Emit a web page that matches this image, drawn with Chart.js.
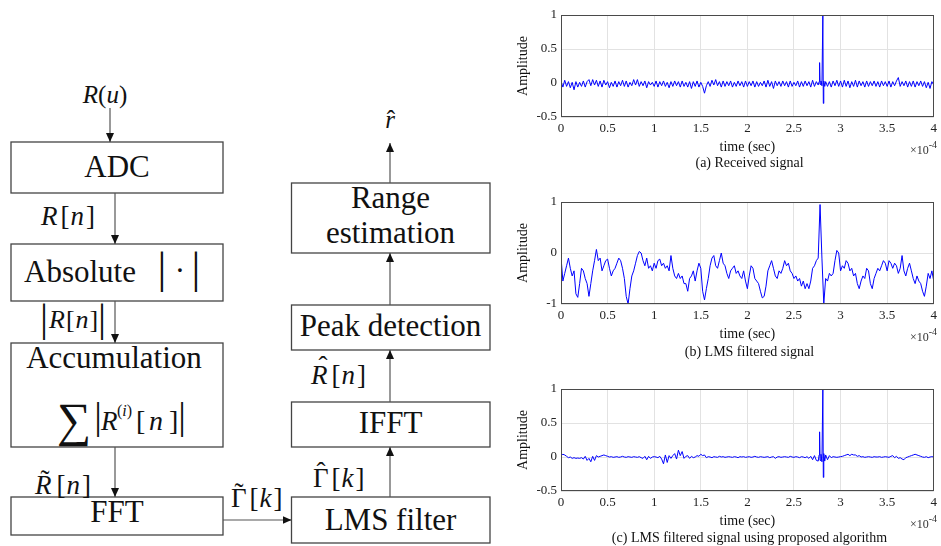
<!DOCTYPE html>
<html>
<head>
<meta charset="utf-8">
<title>LMS range estimation</title>
<script src="https://cdn.jsdelivr.net/npm/chart.js@4.4.1/dist/chart.umd.min.js"></script>
<style>
  html, body { margin: 0; padding: 0; background: #fff; }
  #stage { position: relative; width: 941px; height: 546px; overflow: hidden;
           font-family: "Liberation Serif", serif; color: #111; }
  #diagram { position: absolute; left: 0; top: 0; }
  #diagram text { font-family: "Liberation Serif", serif; }
  .plot { position: absolute; left: 510px; width: 431px; height: 156px; }
  .caption { position: absolute; left: 561px; width: 377px; text-align: center;
             font-size: 14px; line-height: 16px; white-space: nowrap; }
  .scale-note { position: absolute; right: 4px; font-size: 12px; line-height: 14px; color: #333; }
  .scale-note sup { font-size: 10px; vertical-align: 6px; line-height: 0; }
</style>
</head>
<body>
<div id="stage">

<svg id="diagram" width="510" height="546" xmlns="http://www.w3.org/2000/svg" fill="#111">
  <defs>
    <marker id="head" markerWidth="9" markerHeight="8" refX="9" refY="4" orient="auto" markerUnits="userSpaceOnUse">
      <path d="M0,0 L9,4 L0,8 Z" fill="#111"/>
    </marker>
  </defs>

  <!-- blocks -->
  <g fill="#fff" stroke="#444" stroke-width="1.3">
    <rect x="11" y="142" width="212" height="51"/>
    <rect x="11" y="244" width="212" height="57"/>
    <rect x="11" y="343" width="212" height="104"/>
    <rect x="11" y="497" width="212" height="38"/>
    <rect x="291.5" y="497" width="198.5" height="46"/>
    <rect x="291.5" y="402" width="198.5" height="45"/>
    <rect x="291.5" y="305" width="198.5" height="45"/>
    <rect x="291.5" y="183" width="198.5" height="70"/>
  </g>

  <!-- arrows -->
  <g stroke="#555" stroke-width="1.2" marker-end="url(#head)">
    <line x1="110" y1="108" x2="110" y2="142"/>
    <line x1="115" y1="193" x2="115" y2="244"/>
    <line x1="115" y1="301" x2="115" y2="343"/>
    <line x1="115" y1="447" x2="115" y2="497"/>
    <line x1="223" y1="520" x2="291.5" y2="520"/>
    <line x1="390" y1="497" x2="390" y2="447"/>
    <line x1="390" y1="402" x2="390" y2="350"/>
    <line x1="390" y1="305" x2="390" y2="253"/>
    <line x1="390" y1="183" x2="390" y2="143"/>
  </g>

  <!-- block titles -->
  <g font-size="31" text-anchor="middle">
    <text x="117" y="177">ADC</text>
    <text x="114" y="368">Accumulation</text>
    <text x="117" y="522">FFT</text>
    <text x="390.5" y="530">LMS filter</text>
    <text x="390.5" y="433">IFFT</text>
    <text x="390.5" y="336">Peak detection</text>
    <text x="390.5" y="208">Range</text>
    <text x="390.5" y="243">estimation</text>
  </g>
  <text x="24" y="282" font-size="31">Absolute</text>
  <text y="283" font-size="44" text-anchor="middle"><tspan x="162">|</tspan><tspan x="196">|</tspan></text>
  <text x="180" y="281" font-size="31" text-anchor="middle">·</text>

  <!-- sum inside accumulation -->
  <text x="74" y="436" font-size="48" text-anchor="middle">∑</text>
  <text y="429" font-size="38" text-anchor="middle"><tspan x="98">|</tspan><tspan x="182">|</tspan></text>
  <text x="101" y="430" font-size="27" font-style="italic">R</text>
  <text x="117" y="416" font-size="16">(<tspan font-style="italic">i</tspan>)</text>
  <text y="430" font-size="28"><tspan x="136">[</tspan><tspan x="149" font-style="italic">n</tspan><tspan x="169">]</tspan></text>

  <!-- signal labels -->
  <text x="105" y="103" font-size="25" text-anchor="middle"><tspan font-style="italic">R</tspan>(<tspan font-style="italic">u</tspan>)</text>
  <text x="41" y="225" font-size="27"><tspan font-style="italic">R</tspan><tspan dx="3">[</tspan><tspan font-style="italic" dx="1">n</tspan><tspan dx="2">]</tspan></text>
  <text y="331" font-size="40" text-anchor="middle"><tspan x="44">|</tspan><tspan x="102">|</tspan></text>
  <text x="49" y="328" font-size="26"><tspan font-style="italic">R</tspan><tspan dx="1">[</tspan><tspan font-style="italic" dx="1">n</tspan><tspan dx="1">]</tspan></text>
  <text x="35" y="494" font-size="27"><tspan font-style="italic">R</tspan><tspan dx="5">[</tspan><tspan font-style="italic" dx="1">n</tspan><tspan dx="2">]</tspan></text>
  <text x="45" y="489" font-size="27" text-anchor="middle">˜</text>
  <text x="231" y="507" font-size="27">Γ<tspan dx="3">[</tspan><tspan font-style="italic" dx="1">k</tspan><tspan dx="2">]</tspan></text>
  <text x="239" y="502" font-size="27" text-anchor="middle">˜</text>
  <text x="313" y="487" font-size="27">Γ<tspan dx="3">[</tspan><tspan font-style="italic" dx="1">k</tspan><tspan dx="2">]</tspan></text>
  <text x="321" y="481" font-size="27" text-anchor="middle">ˆ</text>
  <text x="311" y="384" font-size="27"><tspan font-style="italic">R</tspan><tspan dx="4">[</tspan><tspan font-style="italic" dx="1">n</tspan><tspan dx="2">]</tspan></text>
  <text x="323" y="375" font-size="27" text-anchor="middle">ˆ</text>
  <text x="390" y="128" font-size="25" text-anchor="middle" font-style="italic">r</text>
  <text x="391" y="128" font-size="25" text-anchor="middle">ˆ</text>
</svg>

<div class="plot" style="top:0px"><canvas id="receivedChart" width="431" height="156"></canvas></div>
<div class="scale-note" style="top:143px">×10<sup>-4</sup></div>
<div class="caption" style="top:155px">(a) Received signal</div>

<div class="plot" style="top:187px"><canvas id="lmsChart" width="431" height="156"></canvas></div>
<div class="scale-note" style="top:330px">×10<sup>-4</sup></div>
<div class="caption" style="top:344px">(b) LMS filtered signal</div>

<div class="plot" style="top:374px"><canvas id="proposedChart" width="431" height="156"></canvas></div>
<div class="scale-note" style="top:517px">×10<sup>-4</sup></div>
<div class="caption" style="top:530px">(c) LMS filtered signal using proposed algorithm</div>

</div>

<script>
// samples every 0.02 (x 1e-4 sec)
const sampleStep = 0.02;

// (a) received signal; the echo near 2.8 is in receivedEcho
const receivedSignal = [
  0.03,-0.06,0.04,-0.05,0.02,-0.07,0.01,-0.1,0.02,-0.06,
  0.01,-0.05,0.03,-0.06,0.02,0.05,-0.04,0.05,-0.03,0.04,
  -0.05,0.03,-0.06,0.04,-0.03,0.02,-0.07,0.01,-0.05,0.03,
  -0.06,0.02,-0.04,0.04,-0.05,0.03,-0.06,0.01,-0.04,0.05,
  -0.03,0.05,-0.05,0.02,-0.04,0.03,-0.07,0.02,-0.03,0.01,
  -0.05,0.03,-0.06,0.02,-0.04,0.03,-0.05,0.01,-0.07,0.02,
  -0.05,0.03,-0.04,0.02,-0.06,0.03,-0.05,0.01,-0.06,0.02,
  -0.08,0.02,-0.05,0.03,-0.06,0.01,-0.05,-0.15,-0.04,0.02,
  -0.05,0.04,-0.03,0.05,-0.04,0.02,-0.06,0.03,-0.05,0.02,
  -0.04,0.03,-0.06,0.01,-0.05,0.03,-0.04,0.02,-0.06,0.03,
  -0.05,0.02,-0.04,0.03,-0.06,0.02,-0.05,0.01,-0.04,0.03,
  -0.06,0.04,-0.05,0.02,-0.08,0.03,-0.04,0.02,-0.05,0.03,
  -0.04,0.02,-0.06,0.03,-0.05,0.01,-0.04,0.03,-0.06,0.02,
  -0.05,0.03,-0.04,0.02,-0.06,0.04,-0.05,0.02,-0.03,null,
  null,null,0.02,-0.05,0.02,-0.06,0.03,-0.04,0.04,-0.05,
  0.03,-0.06,0.04,-0.05,0.03,-0.07,0.02,-0.05,0.04,-0.06,
  0.03,-0.04,0.02,-0.06,0.03,-0.05,0.02,-0.04,0.03,-0.05,
  0.02,-0.06,0.03,-0.04,0.02,-0.05,0.03,-0.06,0.02,-0.04,
  0.03,0.08,-0.05,0.02,-0.04,0.03,-0.06,0.02,-0.05,0.03,
  -0.06,0.02,-0.04,0.03,-0.05,0.02,-0.07,0.01,-0.08,0.02,
  -0.03
];

// (b) plain LMS output
const lmsSignal = [
  -0.08,-0.55,-0.4,-0.25,-0.1,-0.3,-0.45,-0.35,-0.8,-0.87,
  -0.6,-0.3,-0.35,-0.5,-0.6,-0.85,-0.6,-0.35,-0.15,0.07,
  -0.15,-0.1,-0.35,-0.25,-0.15,-0.12,-0.3,-0.45,-0.35,-0.3,
  -0.2,-0.1,-0.15,-0.3,-0.5,-0.85,-1.0,-0.7,-0.45,-0.35,
  -0.2,-0.05,0.03,0.0,-0.15,-0.25,-0.1,-0.3,-0.25,-0.35,
  -0.2,-0.3,-0.15,-0.12,-0.25,-0.2,-0.3,-0.25,-0.35,-0.05,
  -0.3,-0.45,-0.5,-0.4,-0.5,-0.45,-0.6,-0.6,-0.75,-0.5,
  -0.45,-0.35,-0.55,-0.35,-0.2,-0.3,-0.75,-0.92,-0.7,-0.5,
  -0.25,-0.1,-0.05,-0.25,-0.3,-0.15,0.0,-0.2,-0.25,-0.4,
  -0.5,-0.35,-0.3,-0.25,-0.4,-0.35,-0.45,-0.5,-0.35,-0.55,
  -0.7,-0.45,-0.25,-0.3,-0.5,-0.55,-0.6,-0.75,-0.88,-0.85,
  -0.65,-0.35,-0.25,-0.15,-0.3,-0.45,-0.5,-0.35,-0.4,-0.3,
  -0.15,-0.25,-0.2,-0.35,-0.4,-0.5,-0.45,-0.55,-0.5,-0.65,
  -0.55,-0.7,-0.6,-0.7,-0.55,-0.3,-0.25,-0.15,-0.1,0.95,
  -0.1,-1.0,-0.5,-0.55,-0.4,-0.45,-0.4,-0.15,0.05,0.0,
  -0.35,-0.25,-0.3,-0.15,-0.2,-0.35,-0.3,-0.45,-0.4,-0.6,
  -0.7,-0.55,-0.45,-0.5,-0.3,-0.35,-0.6,-0.7,-0.5,-0.4,
  -0.3,-0.35,-0.25,-0.15,-0.2,-0.35,-0.15,-0.2,-0.3,-0.2,
  -0.25,-0.4,-0.3,-0.05,-0.35,-0.45,-0.3,-0.2,-0.35,-0.5,
  -0.6,-0.45,-0.55,-0.6,-0.75,-0.85,-0.65,-0.4,-0.5,-0.35,
  -0.55
];

// (c) LMS with the proposed algorithm; echo in proposedEcho
const proposedSignal = [
  0.02,0.04,0.03,0.01,-0.01,0.0,-0.02,-0.01,-0.02,-0.015,
  -0.02,-0.01,-0.03,0.01,-0.05,-0.02,-0.07,0.01,-0.05,0.02,
  0.0,0.01,0.02,0.03,0.02,0.01,0.0,0.005,-0.005,0.0,
  0.005,-0.005,0.0,0.01,0.0,-0.005,0.005,0.0,-0.005,0.005,
  0.0,-0.005,0.005,-0.01,-0.02,0.01,-0.04,0.01,-0.02,0.0,
  0.005,0.0,-0.01,0.01,-0.03,-0.1,0.03,-0.08,0.02,-0.02,
  0.02,0.05,-0.03,0.1,0.02,0.08,-0.02,0.01,0.02,-0.02,
  0.01,-0.01,0.0,0.02,0.01,0.04,0.02,0.03,-0.01,0.005,
  0.0,-0.01,0.005,0.0,-0.005,0.01,0.0,0.005,-0.005,0.0,
  0.005,0.0,-0.005,0.005,0.0,-0.01,0.005,0.0,0.005,-0.005,
  0.0,0.005,-0.005,0.0,0.01,0.0,-0.005,0.005,0.0,-0.005,
  0.0,0.005,-0.01,0.0,0.005,-0.02,0.0,0.005,-0.005,0.0,
  0.005,0.0,-0.005,0.01,0.0,-0.005,0.005,0.0,-0.01,0.005,
  0.0,-0.01,0.005,-0.02,0.01,-0.04,0.02,-0.05,-0.06,null,
  null,null,0.03,-0.04,0.02,-0.01,0.005,0.0,-0.005,0.0,
  0.005,0.01,0.02,0.03,0.04,0.02,0.04,0.03,0.03,0.01,
  0.02,0.0,0.005,-0.005,0.0,0.005,0.0,-0.005,0.005,0.0,
  0.0,0.005,-0.005,0.0,0.005,0.0,-0.005,0.01,0.02,-0.01,
  0.01,-0.02,-0.01,-0.03,-0.04,-0.01,0.0,0.01,0.02,0.03,
  0.04,0.03,0.02,0.01,0.0,-0.005,0.005,-0.01,0.0,0.005,
  0.0
];

// finer samples around the target echo
const echoTimes = [2.76, 2.77, 2.775, 2.78, 2.79, 2.80, 2.81, 2.815, 2.82, 2.83, 2.84];
const receivedEcho = [-0.03, 0.02, 0.3, -0.02, 0.03, -0.04, 1.0, -0.3, 0.03, -0.05, 0.02];
const proposedEcho = [-0.06, 0.03, 0.37, -0.05, 0.04, -0.07, 1.0, -0.3, 0.05, -0.06, 0.03];

const timeTicks = [0, 0.5, 1, 1.5, 2, 2.5, 3, 3.5, 4];
const ampTicksWide = [-0.5, 0, 0.5, 1];
const ampTicksLms = [-1, 0, 1];

const sampleTimes = receivedSignal.map((_, i) => +(i * sampleStep).toFixed(2));

const serif = '"Liberation Serif", serif';
const gridColor = '#e2e2e2';
const frameColor = '#4a4a4a';
const lineBlue = '#0000ff';

// matlab style closed box around the plot area
const boxFrame = {
  id: 'boxFrame',
  afterDatasetsDraw(chart) {
    const a = chart.chartArea;
    const ctx = chart.ctx;
    const l = Math.round(a.left) + 0.5, t = Math.round(a.top) + 0.5;
    const r = Math.round(a.right) - 0.5, b = Math.round(a.bottom) - 0.5;
    ctx.save();
    ctx.strokeStyle = frameColor;
    ctx.lineWidth = 1;
    ctx.strokeRect(l, t, r - l, b - t);
    ctx.restore();
  }
};

function toPoints(times, values) {
  return values.map((v, i) => ({ x: times[i], y: v }));
}

function makePlot(id, signal, echo, yTicks) {
  const datasets = [{
    data: toPoints(sampleTimes, signal),
    borderColor: lineBlue,
    borderWidth: 1,
    pointRadius: 0,
    tension: 0,
    spanGaps: false
  }];
  if (echo) {
    datasets.push({
      data: toPoints(echoTimes, echo),
      borderColor: lineBlue,
      borderWidth: 1,
      pointRadius: 0,
      tension: 0
    });
  }

  new Chart(document.getElementById(id), {
    type: 'line',
    data: { datasets: datasets },
    options: {
      responsive: false,
      animation: false,
      events: [],
      layout: { padding: { top: 15, right: 3, bottom: 0, left: 0 } },
      plugins: { legend: { display: false }, tooltip: { enabled: false } },
      scales: {
        x: {
          type: 'linear',
          min: timeTicks[0],
          max: timeTicks[timeTicks.length - 1],
          afterBuildTicks: s => { s.ticks = timeTicks.map(v => ({ value: v })); },
          afterFit: s => { s.height = 39; },
          grid: { color: gridColor, drawTicks: false },
          border: { display: false },
          ticks: { padding: 4, color: '#222', autoSkip: false, maxRotation: 0,
                   font: { family: serif, size: 13 }, callback: v => String(v) },
          title: { display: true, text: 'time (sec)', color: '#111', padding: 0,
                   font: { family: serif, size: 14 } }
        },
        y: {
          min: yTicks[0],
          max: yTicks[yTicks.length - 1],
          afterBuildTicks: s => { s.ticks = yTicks.map(v => ({ value: v })); },
          afterFit: s => { s.width = 51; },
          grid: { color: gridColor, drawTicks: false },
          border: { display: false },
          ticks: { padding: 4, color: '#222', font: { family: serif, size: 13 },
                   callback: v => String(v) },
          title: { display: true, text: 'Amplitude', color: '#111',
                   padding: { top: 5, bottom: 0 }, font: { family: serif, size: 14 } }
        }
      }
    },
    plugins: [boxFrame]
  });
}

makePlot('receivedChart', receivedSignal, receivedEcho, ampTicksWide);
makePlot('lmsChart', lmsSignal, null, ampTicksLms);
makePlot('proposedChart', proposedSignal, proposedEcho, ampTicksWide);
</script>
</body>
</html>
